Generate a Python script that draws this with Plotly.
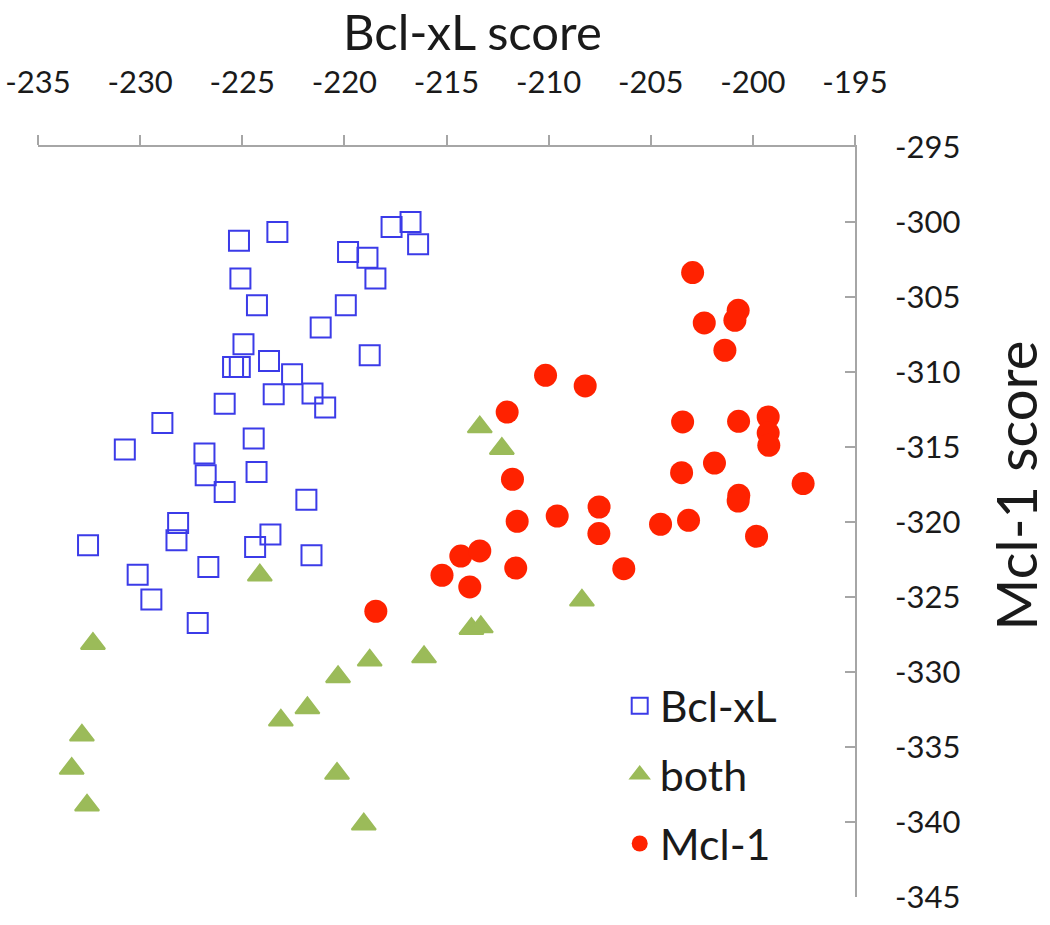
import plotly.graph_objects as go

# ---- data ----
bcl_x = [-225.16, -223.28, -219.82, -218.87, -217.69, -216.76, -216.39,
         -225.09, -218.48, -224.28, -219.93, -221.16, -224.94, -225.45,
         -225.12, -223.69, -222.56, -223.46, -221.56, -220.94, -218.76,
         -225.86, -228.91, -230.75, -226.85, -226.79, -224.44, -224.30,
         -225.86, -221.86, -228.14, -228.22, -232.55, -223.62, -224.37,
         -221.61, -226.66, -230.12, -229.45, -227.18]
bcl_y = [-301.25, -300.67, -302.00, -302.39, -300.33, -300.00, -301.49,
         -303.77, -303.77, -305.55, -305.55, -307.04, -308.15, -309.67,
         -309.67, -309.27, -310.15, -311.49, -311.44, -312.37, -308.89,
         -312.11, -313.40, -315.17, -315.44, -316.89, -314.44, -316.67,
         -318.00, -318.51, -320.07, -321.22, -321.55, -320.84, -321.67,
         -322.22, -323.00, -323.51, -325.17, -326.73]

both_x = [-224.14, -232.31, -232.85, -233.35, -232.60, -218.76, -220.31,
          -221.81, -223.11, -220.36, -219.05, -216.10, -208.37, -213.78,
          -213.32, -213.37, -212.29]
both_y = [-323.55, -328.11, -334.22, -336.44, -338.89, -329.22, -330.33,
          -332.40, -333.22, -336.77, -340.15, -329.00, -325.22, -327.11,
          -327.00, -313.67, -315.11]

mcl_x = [-202.95, -202.38, -200.72, -200.88, -201.37, -210.15, -208.21,
         -212.03, -203.44, -200.70, -199.25, -199.25, -199.22, -201.88,
         -203.49, -211.77, -197.54, -200.69, -200.72, -211.54, -209.58,
         -207.53, -207.54, -204.52, -203.15, -199.82, -214.30, -213.37,
         -215.22, -213.86, -211.61, -206.32, -218.46]
mcl_y = [-303.37, -306.73, -305.89, -306.55, -308.55, -310.22, -310.93,
         -312.67, -313.33, -313.29, -313.00, -314.07, -314.89, -316.07,
         -316.71, -317.15, -317.44, -318.22, -318.60, -319.95, -319.60,
         -319.00, -320.77, -320.15, -319.89, -320.95, -322.27, -321.93,
         -323.55, -324.33, -323.07, -323.11, -325.95]

x_ticks = [-235, -230, -225, -220, -215, -210, -205, -200, -195]
y_ticks = [-295, -300, -305, -310, -315, -320, -325, -330, -335, -340, -345]

x_title = "Bcl-xL score"
y_title = "Mcl-1 score"

FONT = "Lato, 'Open Sans', sans-serif"
AXIS_GREY = "#A6A6A6"
TXT = "#1a1a1a"

fig = go.Figure()
fig.add_trace(go.Scatter(
    x=bcl_x, y=bcl_y, mode="markers", name="Bcl-xL", legendgroup="a",
    marker=dict(symbol="square-open", size=20, color="#3B3BE8",
                line=dict(width=2, color="#3B3BE8"))))
fig.add_trace(go.Scatter(
    x=both_x, y=both_y, mode="markers", name="both", legendgroup="b",
    marker=dict(symbol="triangle-up", size=21, color="#9BBB59",
                line=dict(width=2, color="#9BBB59"))))
fig.add_trace(go.Scatter(
    x=mcl_x, y=mcl_y, mode="markers", name="Mcl-1", legendgroup="c",
    marker=dict(symbol="circle", size=23, color="#FF2200",
                line=dict(width=0))))

fig.update_layout(
    width=1050, height=925,
    margin=dict(l=38, r=195, t=147, b=28),
    paper_bgcolor="white", plot_bgcolor="white",
    font=dict(family=FONT, color=TXT),
    showlegend=True,
    legend=dict(x=0.712, y=0.163, xanchor="left", yanchor="middle",
                font=dict(size=43, family=FONT, color=TXT),
                bgcolor="rgba(0,0,0,0)", traceorder="grouped",
                tracegroupgap=10),
    xaxis=dict(
        range=[-235, -195], side="top", tickmode="array",
        tickvals=x_ticks, ticktext=[str(v) for v in x_ticks],
        showline=True, linecolor=AXIS_GREY, linewidth=1.5,
        ticks="outside", ticklen=10, tickcolor=AXIS_GREY, tickwidth=1.5,
        showgrid=False, zeroline=False, automargin=False,
        ticklabeloverflow="allow",
        tickfont=dict(size=31, family=FONT, color=TXT),
        ticklabelstandoff=30,
    ),
    yaxis=dict(
        range=[-345, -295], side="right", tickmode="array",
        tickvals=y_ticks, ticktext=[str(v) for v in y_ticks],
        showline=True, linecolor=AXIS_GREY, linewidth=1.5,
        ticks="inside", ticklen=10, tickcolor=AXIS_GREY, tickwidth=1.5,
        showgrid=False, zeroline=False, automargin=False,
        ticklabeloverflow="allow",
        tickfont=dict(size=31, family=FONT, color=TXT),
        ticklabelstandoff=32,
    ),
    annotations=[
        dict(text=x_title, xref="paper", yref="paper", x=0.532, y=1,
             xanchor="center", yanchor="top", yshift=146, borderpad=0,
             showarrow=False, font=dict(size=49, family=FONT, color=TXT)),
        dict(text=y_title, xref="paper", yref="paper", x=1.196, y=0.549,
             xanchor="center", yanchor="middle", textangle=-90,
             showarrow=False, font=dict(size=56, family=FONT, color=TXT)),
    ],
)

fig.write_html(
    "out.html",
    config={"displayModeBar": False},
    post_script="document.body.style.margin='0';document.body.style.padding='0';",
)
